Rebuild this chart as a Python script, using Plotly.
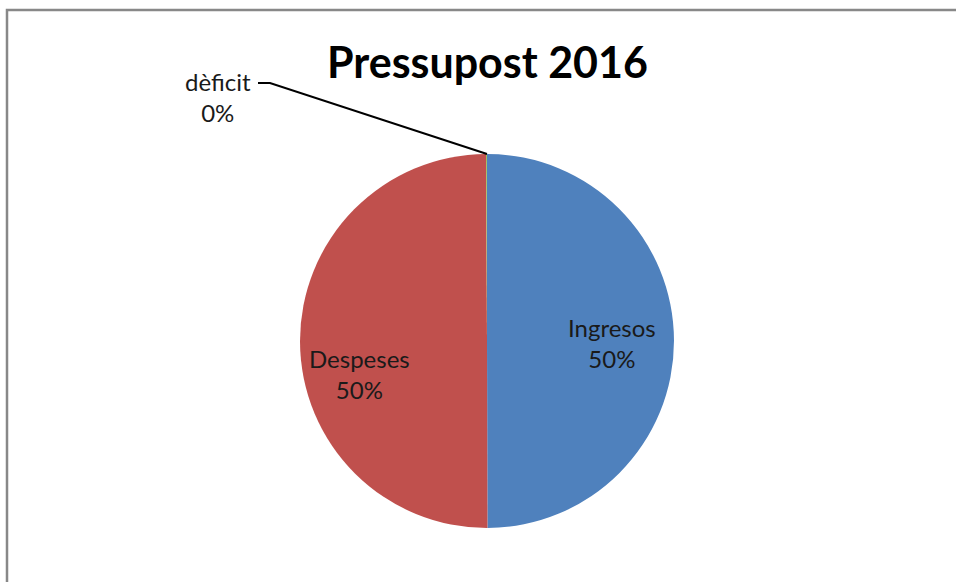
import plotly.graph_objects as go

W, H = 956, 582

# Data
categories = ["Ingresos", "Despeses", "dèficit"]
values = [50.0, 50.0, 0.08]
pct_labels = ["50%", "50%", "0%"]
colors = ["#4F81BD", "#C0504D", "#9BBB59"]
title_text = "Pressupost 2016"

def px(x):
    return x / W

def py(y):
    return 1 - y / H

cx, cy, r = 487, 341, 187

fig = go.Figure(go.Pie(
    labels=categories,
    values=values,
    sort=False,
    direction="clockwise",
    rotation=0,
    marker=dict(colors=colors, line=dict(width=0)),
    textinfo="none",
    hoverinfo="label+percent",
    showlegend=False,
    domain=dict(x=[px(cx - r), px(cx + r)], y=[py(cy + r), py(cy - r)]),
))

font_family = "Lato, Carlito, Calibri, sans-serif"
label_pos = {"Ingresos": (612, 343), "Despeses": (359, 374), "dèficit": (218, 97)}
annotations = []
for cat, pct in zip(categories, pct_labels):
    x, y = label_pos[cat]
    annotations.append(dict(
        x=px(x), y=py(y), xref="paper", yref="paper",
        text=f"{cat}<br>{pct}", showarrow=False,
        font=dict(family=font_family, size=24, color="#1a1a1a"),
        xanchor="center", yanchor="middle", align="center",
    ))
annotations.append(dict(
    x=px(487), y=py(62), xref="paper", yref="paper",
    text=f"<b>{title_text}</b>", showarrow=False,
    font=dict(family=font_family, size=43, color="#000000"),
    xanchor="center", yanchor="middle",
))

def P(x, y):
    return f"{px(x)} {py(y)}"

shapes = [
    dict(type="rect", xref="paper", yref="paper",
         x0=px(7), x1=1.02, y0=-0.02, y1=py(10),
         line=dict(color="#888888", width=2.5), fillcolor="rgba(0,0,0,0)", layer="above"),
    dict(type="path", xref="paper", yref="paper",
         path=f"M {P(258, 83)} L {P(270, 83)} L {P(cx, cy - r)}",
         line=dict(color="#000000", width=2)),
]

fig.update_layout(
    width=W, height=H,
    margin=dict(l=0, r=0, t=0, b=0),
    paper_bgcolor="white",
    plot_bgcolor="white",
    annotations=annotations,
    shapes=shapes,
)

fig.write_html(
    "out.html",
    config={"displayModeBar": False},
    post_script="document.body.style.margin='0';document.body.style.overflow='hidden';",
)
